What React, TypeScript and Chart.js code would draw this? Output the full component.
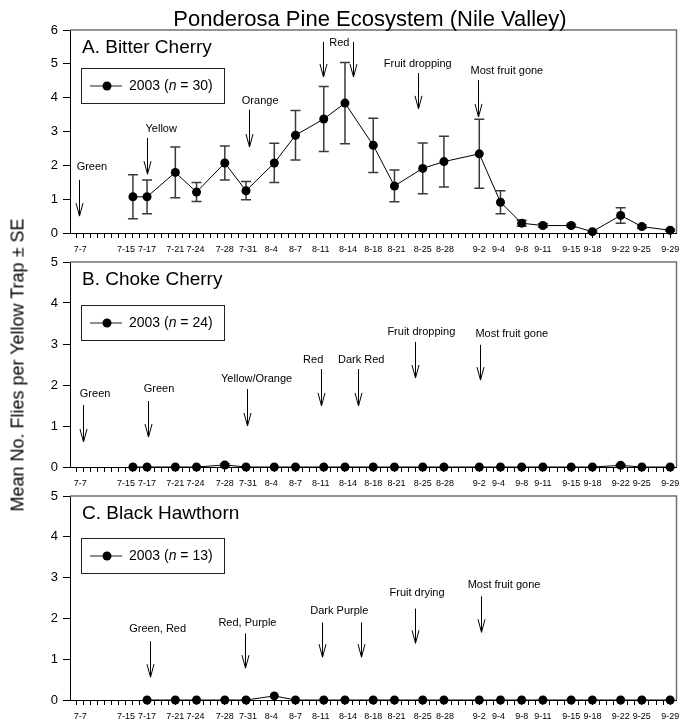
import React, { useEffect, useRef } from 'react';
import { Chart, registerables } from 'chart.js';
Chart.register(...registerables);

const FONT = '"Liberation Sans", Arial, Helvetica, sans-serif';

// x values are days since July 1
const tickDays = [6, 14, 16, 20, 23, 27, 30, 34, 37, 41, 44, 48, 51, 55, 58, 63, 66, 69, 72, 76, 79, 83, 86, 90];
const tickLabels = ['7-7', '7-15', '7-17', '7-21', '7-24', '7-28', '7-31', '8-4', '8-7', '8-11', '8-14', '8-18', '8-21', '8-25', '8-28', '9-2', '9-4', '9-8', '9-11', '9-15', '9-18', '9-22', '9-25', '9-29'];
// small horizontal nudges of tick labels (px), as in the original figure
const tickLabelShift = [4, -7, 0, 0, -1, 0, 2, -3, 0, -3, 3, 0, 2, 0, 1, 0, -2, 0, 0, 0, 0, 0, 0, 0];

const bitterDays = [14, 16, 20, 23, 27, 30, 34, 37, 41, 44, 48, 51, 55, 58, 63, 66, 69, 72, 76, 79, 83, 86, 90];
const bitterMean = [1.07, 1.07, 1.79, 1.21, 2.07, 1.25, 2.07, 2.89, 3.37, 3.84, 2.59, 1.39, 1.91, 2.11, 2.34, 0.91, 0.29, 0.22, 0.22, 0.04, 0.52, 0.19, 0.08];
const bitterSE = [0.65, 0.5, 0.75, 0.28, 0.5, 0.27, 0.58, 0.73, 0.96, 1.2, 0.8, 0.47, 0.75, 0.75, 1.02, 0.34, 0.09, 0.05, 0.04, 0.03, 0.23, 0.05, 0.03];

const chokeDays = [14, 16, 20, 23, 27, 30, 34, 37, 41, 44, 48, 51, 55, 58, 63, 66, 69, 72, 76, 79, 83, 86, 90];
const chokeMean = [0, 0, 0, 0, 0.05, 0, 0, 0, 0, 0, 0, 0, 0, 0, 0, 0, 0, 0, 0, 0, 0.04, 0, 0];
const chokeSE = [0, 0, 0, 0, 0.03, 0, 0, 0, 0, 0, 0, 0, 0, 0, 0, 0, 0, 0, 0, 0, 0.03, 0, 0];

const hawthornDays = [16, 20, 23, 27, 30, 34, 37, 41, 44, 48, 51, 55, 58, 63, 66, 69, 72, 76, 79, 83, 86, 90];
const hawthornMean = [0, 0, 0, 0, 0, 0.1, 0, 0, 0, 0, 0, 0, 0, 0, 0, 0, 0, 0, 0, 0, 0, 0];
const hawthornSE = [0, 0, 0, 0, 0, 0, 0, 0, 0, 0, 0, 0, 0, 0, 0, 0, 0, 0, 0, 0, 0, 0];

type Note = { text: string; tx: number; ty: number; arrows: number[]; top: number; bottom: number };

const bitterNotes: Note[] = [
  { text: 'Green', tx: 8.2, ty: 1.95, arrows: [6.4], top: 1.57, bottom: 0.5 },
  { text: 'Yellow', tx: 18.0, ty: 3.07, arrows: [16.0], top: 2.81, bottom: 1.74 },
  { text: 'Orange', tx: 32.0, ty: 3.9, arrows: [30.4], top: 3.64, bottom: 2.54 },
  { text: 'Red', tx: 43.2, ty: 5.62, arrows: [40.9, 45.2], top: 5.65, bottom: 4.61 },
  { text: 'Fruit dropping', tx: 54.3, ty: 5.0, arrows: [54.3], top: 4.73, bottom: 3.67 },
  { text: 'Most fruit gone', tx: 66.9, ty: 4.79, arrows: [62.8], top: 4.52, bottom: 3.43 },
];

const chokeNotes: Note[] = [
  { text: 'Green', tx: 8.65, ty: 1.78, arrows: [6.9], top: 1.51, bottom: 0.61 },
  { text: 'Green', tx: 17.7, ty: 1.9, arrows: [16.1], top: 1.61, bottom: 0.73 },
  { text: 'Yellow/Orange', tx: 31.5, ty: 2.15, arrows: [30.2], top: 1.9, bottom: 1.0 },
  { text: 'Red', tx: 39.5, ty: 2.61, arrows: [40.6], top: 2.39, bottom: 1.49 },
  { text: 'Dark Red', tx: 46.3, ty: 2.61, arrows: [45.9], top: 2.39, bottom: 1.49 },
  { text: 'Fruit dropping', tx: 54.8, ty: 3.29, arrows: [53.9], top: 3.05, bottom: 2.17 },
  { text: 'Most fruit gone', tx: 67.6, ty: 3.24, arrows: [63.1], top: 2.98, bottom: 2.12 },
];

const hawthornNotes: Note[] = [
  { text: 'Green, Red', tx: 17.5, ty: 1.73, arrows: [16.4], top: 1.44, bottom: 0.56 },
  { text: 'Red, Purple', tx: 30.2, ty: 1.88, arrows: [29.8], top: 1.63, bottom: 0.78 },
  { text: 'Dark Purple', tx: 43.2, ty: 2.17, arrows: [40.8, 46.2], top: 1.9, bottom: 1.05 },
  { text: 'Fruit drying', tx: 54.2, ty: 2.63, arrows: [53.9], top: 2.24, bottom: 1.39 },
  { text: 'Most fruit gone', tx: 66.5, ty: 2.83, arrows: [63.2], top: 2.54, bottom: 1.66 },
];

type PanelDef = {
  title: string;
  n: number;
  days: number[];
  mean: number[];
  se: number[];
  notes: Note[];
  yMax: number;
  top: number;
  height: number;
  legendTop: number;
};

const panels: PanelDef[] = [
  { title: 'A. Bitter Cherry', n: 30, days: bitterDays, mean: bitterMean, se: bitterSE, notes: bitterNotes, yMax: 6, top: 22, height: 236, legendTop: 38 },
  { title: 'B. Choke Cherry', n: 24, days: chokeDays, mean: chokeMean, se: chokeSE, notes: chokeNotes, yMax: 5, top: 254, height: 238, legendTop: 43 },
  { title: 'C. Black Hawthorn', n: 13, days: hawthornDays, mean: hawthornMean, se: hawthornSE, notes: hawthornNotes, yMax: 5, top: 488, height: 237, legendTop: 42 },
];

function makePlugin(p: PanelDef) {
  return {
    id: 'panelDeco',
    beforeDatasetsDraw(chart: any) {
      const { ctx, chartArea } = chart;
      const xs = chart.scales.x;
      const ys = chart.scales.y;
      ctx.save();
      // gray frame (top and right)
      ctx.strokeStyle = '#707070';
      ctx.lineWidth = 1.5;
      ctx.beginPath();
      ctx.moveTo(chartArea.left, chartArea.top);
      ctx.lineTo(chartArea.right, chartArea.top);
      ctx.lineTo(chartArea.right, chartArea.bottom);
      ctx.stroke();
      // error bars
      ctx.strokeStyle = '#3a3a3a';
      ctx.lineWidth = 1.5;
      p.days.forEach((d, i) => {
        const se = p.se[i];
        if (!se) return;
        const x = xs.getPixelForValue(d);
        const y1 = ys.getPixelForValue(p.mean[i] + se);
        const y2 = ys.getPixelForValue(Math.max(0, p.mean[i] - se));
        ctx.beginPath();
        ctx.moveTo(x, y1);
        ctx.lineTo(x, y2);
        ctx.moveTo(x - 5, y1);
        ctx.lineTo(x + 5, y1);
        ctx.moveTo(x - 5, y2);
        ctx.lineTo(x + 5, y2);
        ctx.stroke();
      });
      ctx.restore();
    },
    afterDatasetsDraw(chart: any) {
      const { ctx, chartArea } = chart;
      const xs = chart.scales.x;
      const ys = chart.scales.y;
      ctx.save();
      // x tick labels
      ctx.fillStyle = '#000';
      ctx.font = `9px ${FONT}`;
      ctx.textAlign = 'center';
      ctx.textBaseline = 'middle';
      tickDays.forEach((d, i) => {
        ctx.fillText(tickLabels[i], xs.getPixelForValue(d) + tickLabelShift[i], chartArea.bottom + 17);
      });
      // panel title
      ctx.font = `19px ${FONT}`;
      ctx.textAlign = 'left';
      ctx.fillText(p.title, chartArea.left + 12, chartArea.top + 18);
      // annotations
      ctx.font = `11px ${FONT}`;
      ctx.textAlign = 'center';
      ctx.strokeStyle = '#000';
      ctx.lineWidth = 1;
      p.notes.forEach((nt) => {
        ctx.fillText(nt.text, xs.getPixelForValue(nt.tx), ys.getPixelForValue(nt.ty));
        nt.arrows.forEach((ax) => {
          const x = Math.round(xs.getPixelForValue(ax)) + 0.5;
          const yt = ys.getPixelForValue(nt.top);
          const yb = ys.getPixelForValue(nt.bottom);
          ctx.beginPath();
          ctx.moveTo(x, yt);
          ctx.lineTo(x, yb);
          ctx.moveTo(x - 3.5, yb - 13);
          ctx.lineTo(x, yb);
          ctx.lineTo(x + 3.5, yb - 13);
          ctx.stroke();
        });
      });
      // legend box
      const bx = chartArea.left + 11;
      const by = chartArea.top + p.legendTop;
      const bw = 143;
      const bh = 35;
      ctx.strokeStyle = '#222';
      ctx.lineWidth = 1;
      ctx.strokeRect(bx + 0.5, by + 0.5, bw, bh);
      const cy = by + bh / 2 + 0.5;
      ctx.beginPath();
      ctx.moveTo(bx + 9, cy);
      ctx.lineTo(bx + 41, cy);
      ctx.stroke();
      ctx.beginPath();
      ctx.arc(bx + 26, cy, 4.5, 0, Math.PI * 2);
      ctx.fillStyle = '#000';
      ctx.fill();
      ctx.textAlign = 'left';
      ctx.font = `14px ${FONT}`;
      let tx = bx + 48;
      const s1 = '2003 (';
      ctx.fillText(s1, tx, cy);
      tx += ctx.measureText(s1).width;
      ctx.font = `italic 14px ${FONT}`;
      ctx.fillText('n', tx, cy);
      tx += ctx.measureText('n').width;
      ctx.font = `14px ${FONT}`;
      ctx.fillText(` = ${p.n})`, tx, cy);
      ctx.restore();
    },
  };
}

function Panel({ p }: { p: PanelDef }) {
  const ref = useRef<HTMLCanvasElement>(null);
  useEffect(() => {
    if (!ref.current) return;
    const chart = new Chart(ref.current, {
      type: 'line',
      data: {
        datasets: [
          {
            data: p.days.map((d, i) => ({ x: d, y: p.mean[i] })),
            borderColor: '#000',
            borderWidth: 1,
            pointRadius: 4.5,
            pointBackgroundColor: '#000',
            pointBorderColor: '#000',
            pointBorderWidth: 0,
            tension: 0,
            clip: false as any,
          },
        ],
      },
      options: {
        responsive: false,
        animation: false,
        devicePixelRatio: 1,
        layout: { padding: { top: 8, right: 3, left: 0, bottom: 0 } },
        plugins: { legend: { display: false }, tooltip: { enabled: false } },
        scales: {
          x: {
            type: 'linear',
            min: 5.1,
            max: 90.9,
            afterBuildTicks: (scale: any) => {
              const t = [];
              for (let d = 6; d <= 90; d++) t.push({ value: d });
              scale.ticks = t;
            },
            afterFit: (scale: any) => {
              scale.height = 25;
              scale.paddingLeft = 0;
              scale.paddingRight = 0;
            },
            ticks: {
              autoSkip: false,
              maxRotation: 0,
              minRotation: 0,
              padding: 0,
              color: '#000',
              font: { family: FONT, size: 9 },
              callback: () => '',
            },
            grid: { drawOnChartArea: false, drawTicks: true, tickLength: 5, color: '#000', lineWidth: 1 },
            border: { display: true, color: '#000', width: 1 },
          },
          y: {
            type: 'linear',
            min: 0,
            max: p.yMax,
            afterFit: (scale: any) => {
              scale.width = 70;
              scale.paddingTop = 0;
              scale.paddingBottom = 0;
            },
            ticks: {
              stepSize: 1,
              padding: 5,
              color: '#000',
              font: { family: FONT, size: 13 },
            },
            grid: { drawOnChartArea: false, drawTicks: true, tickLength: 7, color: '#000', lineWidth: 1 },
            border: { display: true, color: '#000', width: 1 },
          },
        },
      },
      plugins: [makePlugin(p)],
    } as any);
    return () => chart.destroy();
  }, [p]);
  return (
    <canvas
      ref={ref}
      width={681}
      height={p.height}
      style={{ position: 'absolute', left: 0, top: p.top, width: 681, height: p.height, display: 'block' }}
    />
  );
}

export default function App() {
  return (
    <div style={{ position: 'fixed', left: 0, top: 0, width: 681, height: 725, background: '#fff', fontFamily: FONT, overflow: 'hidden' }}>
      {panels.map((p) => (
        <Panel key={p.title} p={p} />
      ))}
      <div
        style={{
          position: 'absolute',
          left: 370,
          top: 19,
          transform: 'translate(-50%, -50%)',
          fontSize: 22,
          whiteSpace: 'nowrap',
          color: '#000',
        }}
      >
        Ponderosa Pine Ecosystem (Nile Valley)
      </div>
      <div
        style={{
          position: 'absolute',
          left: 18,
          top: 365,
          transform: 'translate(-50%, -50%) rotate(-90deg)',
          fontSize: 18,
          whiteSpace: 'nowrap',
          color: '#000',
        }}
      >
        Mean No. Flies per Yellow Trap ± SE
      </div>
    </div>
  );
}
